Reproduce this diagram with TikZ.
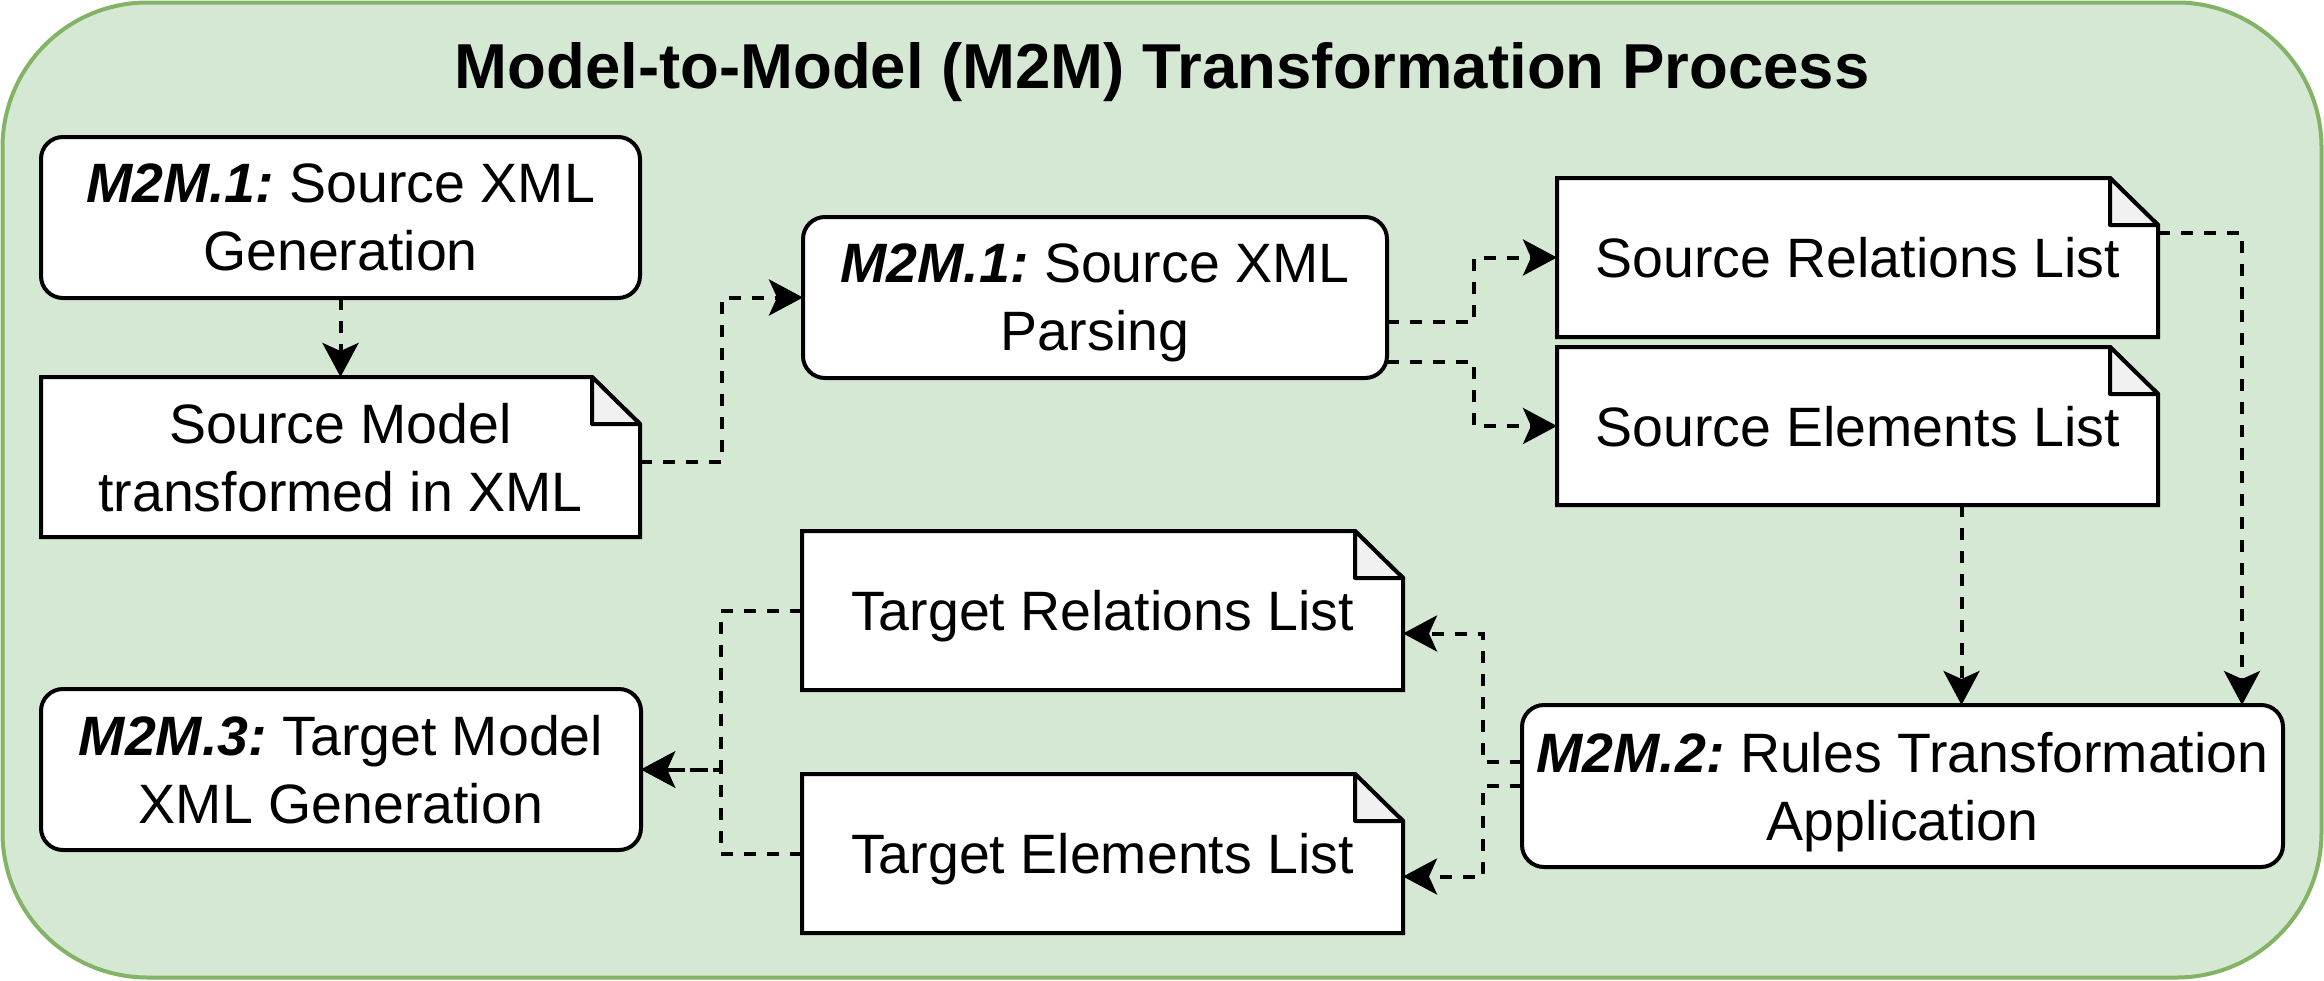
\documentclass[tikz,border=0pt]{standalone}
\usepackage{fontspec}
\setmainfont{Liberation Sans}
\usetikzlibrary{arrows.meta,calc}
\definecolor{cfill}{HTML}{D5E8D4}
\definecolor{cline}{HTML}{82B366}
\definecolor{cfold}{HTML}{F1F1F1}
\frenchspacing
\newcommand\nod[1]{\raisebox{0pt}[\height][0pt]{#1}}
\newcommand\tag[1]{\textbf{\textit{#1}}}
\newcommand\docshape[4]{%
  \draw[line width=4pt, fill=white] (#1,#2) -- (#3-48,#2) -- (#3,#2+47) -- (#3,#4) -- (#1,#4) -- cycle;
  \draw[line width=4pt, fill=cfold, line join=round] (#3-48,#2) -- (#3-48,#2+47) -- (#3,#2+47) -- cycle;}
\begin{document}
\begin{tikzpicture}[x=1pt,y=-1pt,
  proc/.style={draw, line width=4pt, fill=white, rounded corners=22pt, align=center,
    font=\fontsize{55.5}{68}\selectfont, inner sep=0pt, outer sep=0pt},
  doctext/.style={align=center, font=\fontsize{55.5}{68}\selectfont, inner sep=0pt, outer sep=0pt},
  conn/.style={line width=4pt, dash pattern=on 12pt off 11pt,
    -{Stealth[length=34pt,width=36pt,inset=8pt]}}]
\useasboundingbox (0,0) rectangle (2324,980);
% container
\draw[cline, fill=cfill, line width=4pt, rounded corners=145pt] (2.5,2.5) rectangle (2321.5,977.5);
\node[anchor=base] (title) at (1162,88) {\bfseries\fontsize{63.5}{76}\selectfont Model-to-Model (M2M) Transformation Process};
% process boxes
\node[proc, minimum width=599pt, minimum height=161pt] (A) at (340.5,217.5)
  {\tag{M2M.1:} Source XML\\\nod{Generation}};
\node[proc, minimum width=584pt, minimum height=161pt] (C) at (1095,297.5)
  {\tag{M2M.1:} Source XML\\\nod{Parsing}};
\node[proc, minimum width=761pt, minimum height=162pt] (F) at (1902.5,786)
  {\tag{M2M.2:} Rules Transformation\\\nod{Application}};
\node[proc, minimum width=600pt, minimum height=161pt] (I) at (341,769.5)
  {\tag{M2M.3:} Target Model\\\nod{XML Generation}};
% documents
\docshape{41}{377}{640}{537}
\node[doctext, minimum width=599pt, minimum height=160pt] (B) at (340.5,457)
  {Source Model\\\nod{transformed in XML}};
\docshape{1557}{178}{2158}{337}
\node[doctext, minimum width=601pt, minimum height=159pt] (D) at (1857.5,257.5)
  {\nod{Source Relations List}};
\docshape{1557}{347}{2158}{505}
\node[doctext, minimum width=601pt, minimum height=158pt] (E) at (1857.5,426)
  {\nod{Source Elements List}};
\docshape{802}{531}{1403}{690}
\node[doctext, minimum width=601pt, minimum height=159pt] (G) at (1102.5,610.5)
  {\nod{Target Relations List}};
\docshape{802}{774}{1403}{933}
\node[doctext, minimum width=601pt, minimum height=159pt] (H) at (1102.5,853.5)
  {\nod{Target Elements List}};
% connectors
\draw[conn] (A.south) -- (B.north);
\draw[conn] ([yshift=-5pt]B.east) -- ++(82,0) |- (C.west);
\draw[conn] ([yshift=-24.5pt]C.east) -- ++(87,0) |- (D.west);
\draw[conn] ([yshift=-64.5pt]C.east) -- ++(87,0) |- (E.west);
\draw[conn] ([yshift=24.5pt]D.east) -| ([xshift=339.5pt]F.north);
\draw[conn] ([xshift=104pt]E.south) -- ([xshift=104pt]E.south |- F.north);
\draw[conn] ([yshift=24pt]F.west) -- ++(-39,0) |- ([yshift=-23pt]G.east);
\draw[conn] (F.west) -- ++(-39,0) |- ([yshift=-23pt]H.east);
\draw[conn] (G.west) -- ++(-81,0) |- (I.east);
\draw[conn] (H.west) -- ++(-81,0) |- (I.east);
\end{tikzpicture}
\end{document}
